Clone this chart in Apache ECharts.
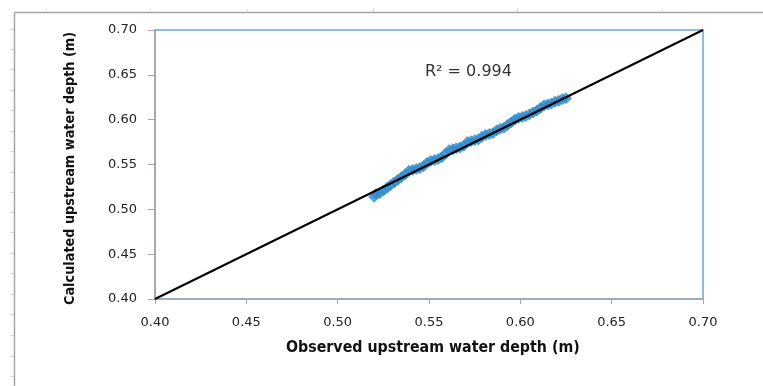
<!DOCTYPE html>
<html>
<head>
<meta charset="utf-8">
<script src="https://cdn.jsdelivr.net/npm/echarts@6/dist/echarts.min.js"></script>
<style>
  html, body { margin: 0; padding: 0; background: #ffffff; }
  #chart { width: 763px; height: 386px; }
</style>
</head>
<body>
<div id="chart"></div>
<script>
// Observed vs calculated upstream water depth (m)
const observed = [
  0.520, 0.521, 0.523, 0.525, 0.527, 0.529, 0.531, 0.533, 0.535, 0.537,
  0.539, 0.541, 0.543, 0.545, 0.547, 0.549, 0.551, 0.553, 0.555, 0.557,
  0.559, 0.561, 0.563, 0.565, 0.567, 0.569, 0.571, 0.573, 0.575, 0.577,
  0.579, 0.581, 0.583, 0.585, 0.587, 0.589, 0.591, 0.593, 0.595, 0.597,
  0.599, 0.601, 0.603, 0.605, 0.607, 0.609, 0.611, 0.613, 0.615, 0.617,
  0.619, 0.621, 0.623, 0.625
];
const calculated = [
  0.514, 0.517, 0.518, 0.521, 0.524, 0.527, 0.530, 0.533, 0.536, 0.539,
  0.543, 0.544, 0.545, 0.546, 0.548, 0.552, 0.554, 0.555, 0.556, 0.558,
  0.562, 0.566, 0.567, 0.568, 0.569, 0.571, 0.575, 0.576, 0.577, 0.578,
  0.581, 0.583, 0.584, 0.585, 0.588, 0.590, 0.591, 0.594, 0.597, 0.600,
  0.602, 0.603, 0.604, 0.606, 0.608, 0.610, 0.613, 0.616, 0.617, 0.618,
  0.620, 0.621, 0.623, 0.624
];
// 1:1 reference line end points
const lineX = [0.40, 0.70];
const lineY = [0.40, 0.70];
const axisMin = 0.40;
const axisMax = 0.70;
const axisStep = 0.05;
const r2Text = 'R² = 0.994';
const xTitle = 'Observed upstream water depth (m)';
const yTitle = 'Calculated upstream water depth (m)';

const points = observed.map((x, i) => [x, calculated[i]]);
const linePts = lineX.map((x, i) => [x, lineY[i]]);

const chart = echarts.init(document.getElementById('chart'), null, { renderer: 'canvas' });

const labelFont = { fontFamily: 'DejaVu Sans', fontSize: 13, color: '#222' };
const titleFont = '"Liberation Sans Narrow", "DejaVu Sans Condensed", sans-serif';

// faint sheet-grid ticks around the chart frame
const frameMarks = [];
[29, 49, 69, 90, 110, 131, 151, 172, 192, 212, 232, 253, 273, 294, 314, 335, 356, 376].forEach(y => {
  frameMarks.push({ type: 'line', shape: { x1: 10, y1: y + 0.5, x2: 14, y2: y + 0.5 },
    style: { stroke: '#d3dbe4', lineWidth: 1 }, silent: true });
});
[46, 150, 247, 373, 517, 662].forEach(x => {
  frameMarks.push({ type: 'line', shape: { x1: x + 0.5, y1: 9, x2: x + 0.5, y2: 12 },
    style: { stroke: '#d3dbe4', lineWidth: 1 }, silent: true });
});

chart.setOption({
  backgroundColor: '#ffffff',
  animation: false,
  grid: {
    left: 155, right: 60, top: 30, bottom: 87,
    show: true, borderColor: '#6aa7d8', borderWidth: 1.5, backgroundColor: 'transparent'
  },
  xAxis: {
    type: 'value', min: axisMin, max: axisMax, interval: axisStep,
    axisLine: { show: true, lineStyle: { color: '#a6a6a6', width: 1.5 } },
    axisTick: { show: true, inside: false, length: 5, lineStyle: { color: '#a6a6a6' } },
    splitLine: { show: false },
    axisLabel: Object.assign({ margin: 17, formatter: v => v.toFixed(2) }, labelFont)
  },
  yAxis: {
    type: 'value', min: axisMin, max: axisMax, interval: axisStep,
    axisLine: { show: true, lineStyle: { color: '#a6a6a6', width: 1.5 } },
    axisTick: { show: true, inside: false, length: 7, lineStyle: { color: '#a6a6a6' } },
    splitLine: { show: false },
    axisLabel: Object.assign({ margin: 18, formatter: v => v.toFixed(2) }, labelFont)
  },
  series: [
    {
      type: 'scatter',
      data: points,
      symbol: 'diamond',
      symbolSize: 11,
      itemStyle: { color: '#2e8bcc', borderColor: '#3a92d0', borderWidth: 1 },
      z: 2
    },
    {
      type: 'line',
      data: linePts,
      showSymbol: false,
      lineStyle: { color: '#000000', width: 2 },
      z: 3
    }
  ],
  graphic: frameMarks.concat([
    { type: 'line', shape: { x1: 14.5, y1: 12.5, x2: 763, y2: 12.5 },
      style: { stroke: '#a6a6a6', lineWidth: 1.5 }, silent: true },
    { type: 'line', shape: { x1: 14.5, y1: 12.5, x2: 14.5, y2: 386 },
      style: { stroke: '#a6a6a6', lineWidth: 1.5 }, silent: true },
    { type: 'text', left: 425, top: 64,
      style: { text: r2Text, font: '16px "DejaVu Sans", sans-serif', fill: '#333' } },
    { type: 'text', left: 286, top: 340,
      style: { text: xTitle, font: 'bold 15.8px ' + titleFont, fill: '#111' } },
    { type: 'text', x: 63, y: 305, rotation: Math.PI / 2,
      style: { text: yTitle, font: 'bold 14.3px ' + titleFont, fill: '#111', textVerticalAlign: 'top' } }
  ])
});
</script>
</body>
</html>
